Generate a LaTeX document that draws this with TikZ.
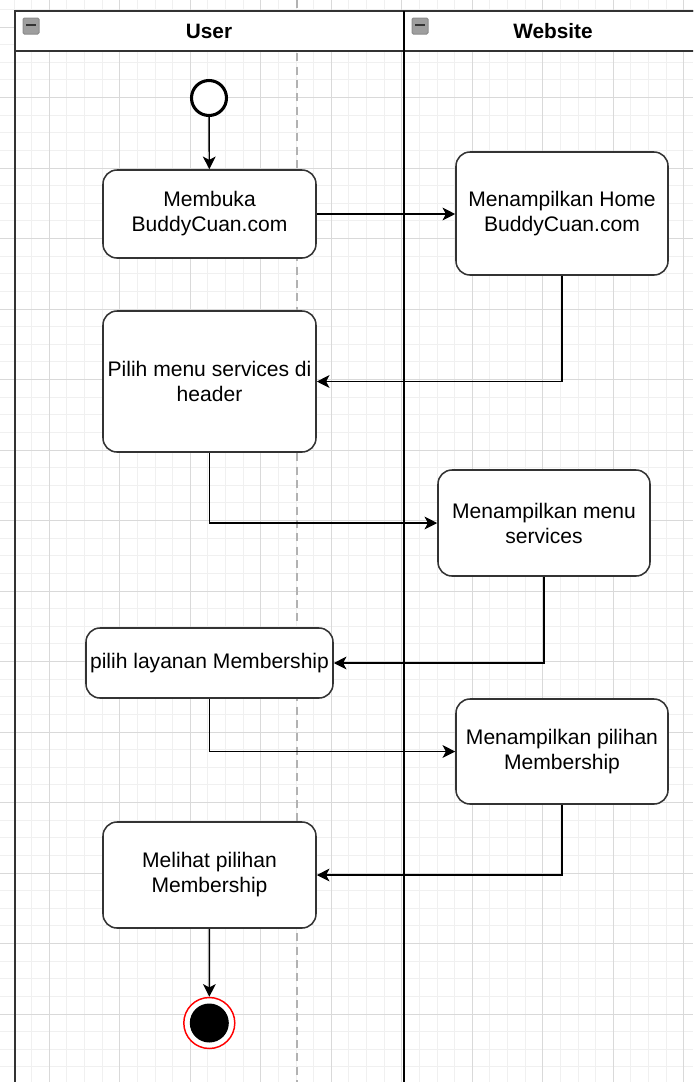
\documentclass[tikz,border=0pt]{standalone}
\usepackage{fontspec}
\setmainfont{Liberation Sans}
\usetikzlibrary{arrows.meta}
\def\u{0.75pt}
\tikzset{
  minorgrid/.style={draw=black!6, line width=0.75pt},
  majorgrid/.style={draw=black!15, line width=0.75pt},
  actbox/.style={draw=black!80, fill=white, line width=1.15pt, rounded corners=10.5pt,
    align=center, inner sep=0pt, font=\fontsize{15.8}{18.8}\selectfont},
  flow/.style={draw=black, line width=1.1pt, -{Stealth[length=9.5pt,width=9.5pt,inset=2.5pt]}},
  lanehead/.style={font=\fontsize{15.6}{18.8}\selectfont\bfseries},
  collapser/.style={draw=black!45, fill=black!38, line width=0.75pt, rounded corners=1pt}
}
\begin{document}
\begin{tikzpicture}[x=0.75pt,y=-0.75pt]
\useasboundingbox (0,0) rectangle (693,1082);
\clip (0,0) rectangle (693,1082);
\fill[white] (0,0) rectangle (693,1082);
% grid
\foreach \i in {0,...,40} \draw[minorgrid] ({-3.575+17.625*\i},0) -- ({-3.575+17.625*\i},1082);
\foreach \j in {0,...,62} \draw[minorgrid] (0,{-8.25+17.625*\j}) -- (693,{-8.25+17.625*\j});
\foreach \i in {0,...,10} \draw[majorgrid] ({-21.2+70.5*\i},0) -- ({-21.2+70.5*\i},1082);
\foreach \j in {0,...,15} \draw[majorgrid] (0,{27+70.5*\j}) -- (693,{27+70.5*\j});
% page break line
\draw[black!30, line width=1pt, dash pattern=on 6pt off 4pt] (297,0) -- (297,1082);
% pool
\draw[fill=white, draw=black!80, line width=1.5pt] (15,11) rectangle (720,51);
\draw[draw=black!80, line width=1.5pt] (15,51) -- (15,1100);
\draw[draw=black!80, line width=1.5pt] (15,11) -- (720,11);
\draw[draw=black, line width=1.5pt] (403.5,11) -- (403.5,1100);
\node[lanehead] (huser) at (209,31) {User};
\node[lanehead] (hweb) at (553,31) {Website};
\draw[collapser] (23,18) rectangle (39,34);
\draw[black!80, line width=1.3pt] (26,25) -- (36,25);
\draw[collapser] (412,18) rectangle (428,34);
\draw[black!80, line width=1.3pt] (415,25) -- (425,25);
% start / end
\node[circle, draw=black, line width=2.3pt, fill=white, minimum size={35*\u}, inner sep=0pt] (start) at (209,98) {};
\node[circle, draw=red, line width=1.1pt, fill=white, minimum size={51*\u}, inner sep=0pt] (end) at (209.3,1023) {};
\node[circle, fill=black, minimum size={39*\u}, inner sep=0pt] (endin) at (209.3,1023) {};
% activities
\node[actbox, minimum width={213*\u}, minimum height={88*\u}] (b1) at (209.5,214) {Membuka\\BuddyCuan.com};
\node[actbox, minimum width={212*\u}, minimum height={123*\u}] (b2) at (562,213.5) {Menampilkan Home\\BuddyCuan.com};
\node[actbox, minimum width={213*\u}, minimum height={141*\u}] (b3) at (209.5,381.5) {Pilih menu services di\\header};
\node[actbox, minimum width={212*\u}, minimum height={106*\u}] (b4) at (544,523) {Menampilkan menu\\services};
\node[actbox, minimum width={247*\u}, minimum height={70*\u}] (b5) at (209.5,663) {pilih layanan Membership};
\node[actbox, minimum width={212*\u}, minimum height={105*\u}] (b6) at (562,751.5) {Menampilkan pilihan\\Membership};
\node[actbox, minimum width={213*\u}, minimum height={106*\u}] (b7) at (209.5,875) {Melihat pilihan\\Membership};
% connectors
\draw[flow] (start) -- (b1);
\draw[flow] (b1.east) -- (b1.east -| b2.west);
\draw[flow] (b2.south) |- (b3.east);
\draw[flow] (b3.south) |- (b4.west);
\draw[flow] (b4.south) |- (b5.east);
\draw[flow] (b5.south) |- (b6.west);
\draw[flow] (b6.south) |- (b7.east);
\draw[flow] (b7) -- (end);
\end{tikzpicture}
\end{document}
